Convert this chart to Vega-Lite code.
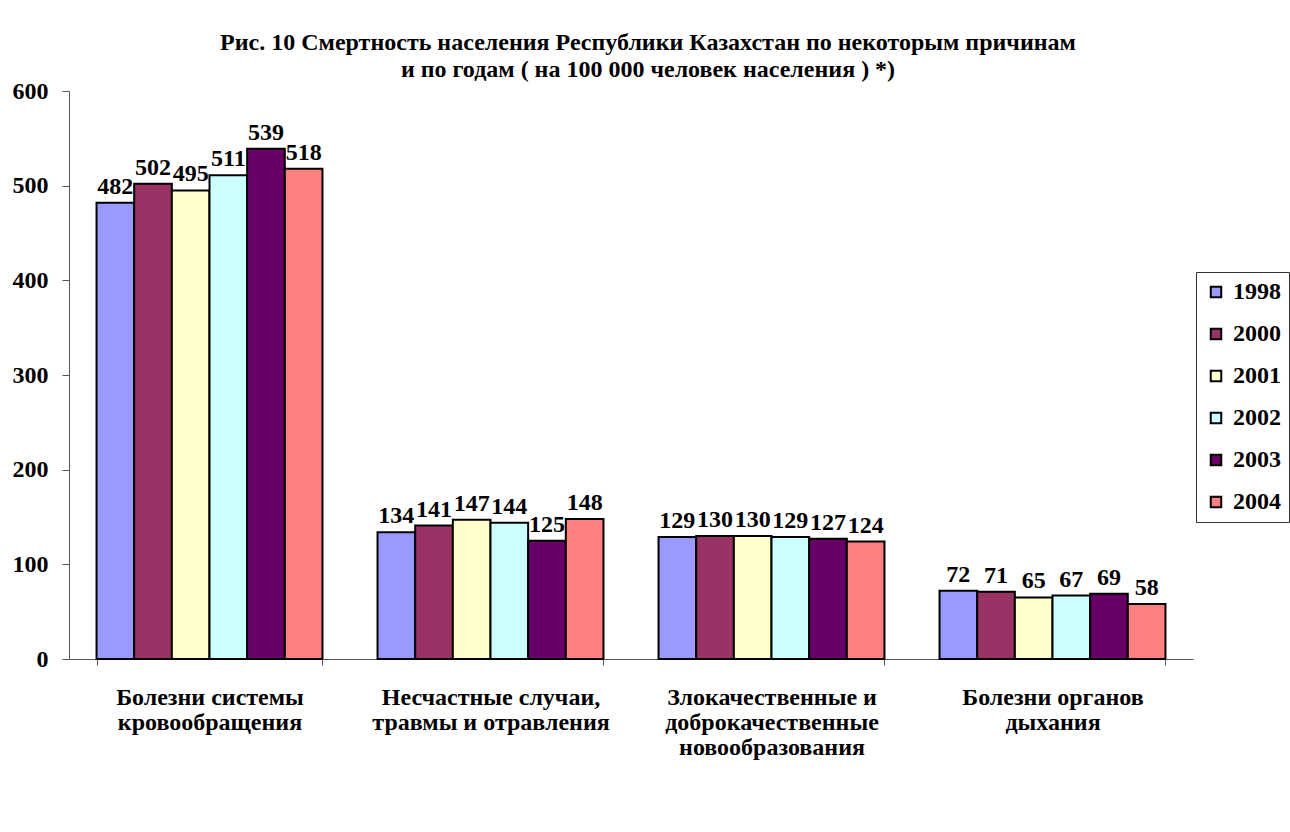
{
  "$schema": "https://vega.github.io/schema/vega-lite/v6.json",
  "width": 1124,
  "height": 568,
  "autosize": {"type": "none"},
  "padding": {"left": 69, "top": 91, "right": 97, "bottom": 173},
  "background": "white",
  "config": {
    "font": "Liberation Serif",
    "view": {"stroke": null}
  },
  "title": {
    "text": ["Рис. 10  Смертность населения Республики Казахстан по некоторым причинам", "и по годам  ( на 100 000 человек  населения ) *)"],
    "font": "Liberation Serif",
    "fontSize": 24,
    "fontWeight": "bold",
    "color": "black",
    "anchor": "middle",
    "frame": "group",
    "dx": 17,
    "offset": -3,
    "lineHeight": 27
  },
  "data": {
    "values": [
      {"cause": "Болезни системы кровообращения", "year": "1998", "value": 482},
      {"cause": "Болезни системы кровообращения", "year": "2000", "value": 502},
      {"cause": "Болезни системы кровообращения", "year": "2001", "value": 495},
      {"cause": "Болезни системы кровообращения", "year": "2002", "value": 511},
      {"cause": "Болезни системы кровообращения", "year": "2003", "value": 539},
      {"cause": "Болезни системы кровообращения", "year": "2004", "value": 518},
      {"cause": "Несчастные случаи, травмы и отравления", "year": "1998", "value": 134},
      {"cause": "Несчастные случаи, травмы и отравления", "year": "2000", "value": 141},
      {"cause": "Несчастные случаи, травмы и отравления", "year": "2001", "value": 147},
      {"cause": "Несчастные случаи, травмы и отравления", "year": "2002", "value": 144},
      {"cause": "Несчастные случаи, травмы и отравления", "year": "2003", "value": 125},
      {"cause": "Несчастные случаи, травмы и отравления", "year": "2004", "value": 148},
      {"cause": "Злокачественные и доброкачественные новообразования", "year": "1998", "value": 129},
      {"cause": "Злокачественные и доброкачественные новообразования", "year": "2000", "value": 130},
      {"cause": "Злокачественные и доброкачественные новообразования", "year": "2001", "value": 130},
      {"cause": "Злокачественные и доброкачественные новообразования", "year": "2002", "value": 129},
      {"cause": "Злокачественные и доброкачественные новообразования", "year": "2003", "value": 127},
      {"cause": "Злокачественные и доброкачественные новообразования", "year": "2004", "value": 124},
      {"cause": "Болезни органов дыхания", "year": "1998", "value": 72},
      {"cause": "Болезни органов дыхания", "year": "2000", "value": 71},
      {"cause": "Болезни органов дыхания", "year": "2001", "value": 65},
      {"cause": "Болезни органов дыхания", "year": "2002", "value": 67},
      {"cause": "Болезни органов дыхания", "year": "2003", "value": 69},
      {"cause": "Болезни органов дыхания", "year": "2004", "value": 58}
    ]
  },
  "encoding": {
    "x": {
      "field": "cause",
      "type": "nominal",
      "sort": null,
      "scale": {"paddingInner": 0.196, "paddingOuter": 0.098},
      "axis": {
        "title": null,
        "labelAngle": 0,
        "labelFont": "Liberation Serif",
        "labelFontSize": 24,
        "labelFontWeight": "bold",
        "labelColor": "black",
        "labelLineHeight": 25,
        "labelPadding": 20,
        "labelBaseline": "top",
        "labelExpr": "datum.value == 'Болезни системы кровообращения' ? ['Болезни системы', 'кровообращения'] : datum.value == 'Несчастные случаи, травмы и отравления' ? ['Несчастные случаи,', 'травмы и отравления'] : datum.value == 'Злокачественные и доброкачественные новообразования' ? ['Злокачественные и', 'доброкачественные', 'новообразования'] : datum.value == 'Болезни органов дыхания' ? ['Болезни органов', 'дыхания'] : ''",
        "tickBand": "extent",
        "tickSize": 6,
        "tickColor": "#555",
        "domainColor": "#555",
        "labelLimit": 300
      }
    },
    "xOffset": {"field": "year", "type": "nominal", "scale": {"paddingInner": 0, "paddingOuter": 0}},
    "y": {
      "field": "value",
      "type": "quantitative",
      "scale": {"domain": [0, 600]},
      "axis": {
        "title": null,
        "values": [0, 100, 200, 300, 400, 500, 600],
        "grid": false,
        "labelFont": "Liberation Serif",
        "labelFontSize": 24,
        "labelFontWeight": "bold",
        "labelColor": "black",
        "labelPadding": 14,
        "tickSize": 7,
        "tickColor": "#555",
        "domainColor": "#555"
      }
    }
  },
  "layer": [
    {
      "mark": {"type": "bar", "stroke": "black", "strokeWidth": 2},
      "encoding": {
        "color": {
          "field": "year",
          "type": "nominal",
          "scale": {"domain": ["1998", "2000", "2001", "2002", "2003", "2004"], "range": ["#9999FF", "#993366", "#FFFFCC", "#CCFFFF", "#660066", "#FF8080"]},
          "legend": {
            "title": null,
            "orient": "none",
            "legendX": 1127,
            "legendY": 181,
            "strokeColor": "#333",
            "fillColor": "white",
            "padding": 8,
            "rowPadding": 18,
            "symbolType": "square",
            "symbolSize": 110,
            "symbolStrokeColor": "black",
            "symbolStrokeWidth": 2,
            "labelFont": "Liberation Serif",
            "labelFontSize": 24,
            "labelFontWeight": "bold",
            "labelColor": "black",
            "labelOffset": 5
          }
        }
      }
    },
    {
      "mark": {"type": "text", "font": "Liberation Serif", "fontSize": 24, "fontWeight": "bold", "color": "black", "baseline": "alphabetic", "dy": -9},
      "encoding": {
        "text": {"field": "value", "type": "quantitative"}
      }
    }
  ]
}
